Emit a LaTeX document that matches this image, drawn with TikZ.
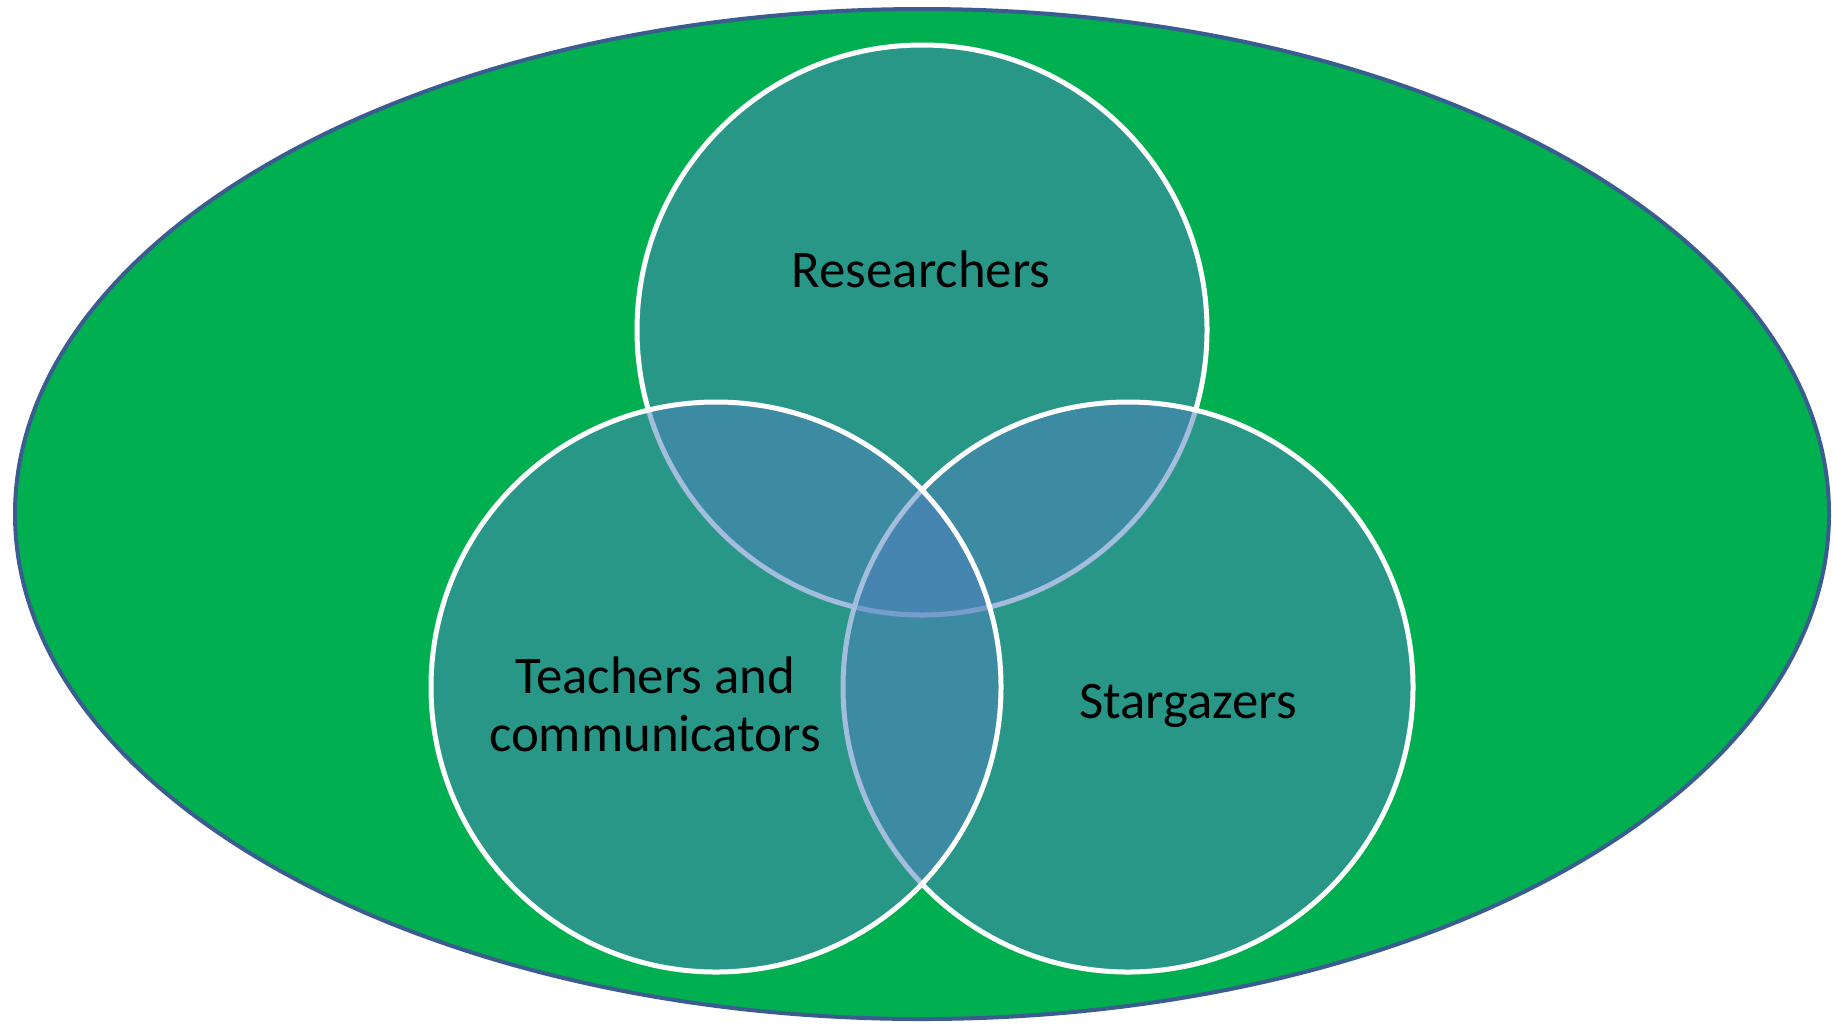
\documentclass[tikz,border=0pt]{standalone}
\usepackage{fontspec}
\setmainfont{Carlito}
\definecolor{ellfill}{HTML}{00B050}
\definecolor{ellline}{HTML}{3A5C8E}
\definecolor{circfill}{HTML}{4F81BD}
\tikzset{
  setcircle/.style={fill=circfill, fill opacity=0.52, draw=white, draw opacity=1, line width=2.5pt},
  label/.style={font=\fontsize{26.4}{29}\selectfont, text=black, align=center, inner sep=0pt}
}
\begin{document}
\begin{tikzpicture}[x=0.5pt,y=-0.5pt]
\useasboundingbox (0,0) rectangle (1834,1024);
\path[fill=ellfill, draw=ellline, line width=2pt] (922,514) ellipse [x radius=907, y radius=505];
\path[setcircle] (922,330) circle [radius=285];
\path[setcircle] (1128,687) circle [radius=285];
\path[setcircle] (716,687) circle [radius=285];
\node[label, anchor=base] (res) at (921,287) {Researchers};
\node[label, anchor=center] (tea) at (655,704) {Teachers and\\communicators};
\node[label, anchor=base] (sta) at (1188,718) {Stargazers};
\end{tikzpicture}
\end{document}
